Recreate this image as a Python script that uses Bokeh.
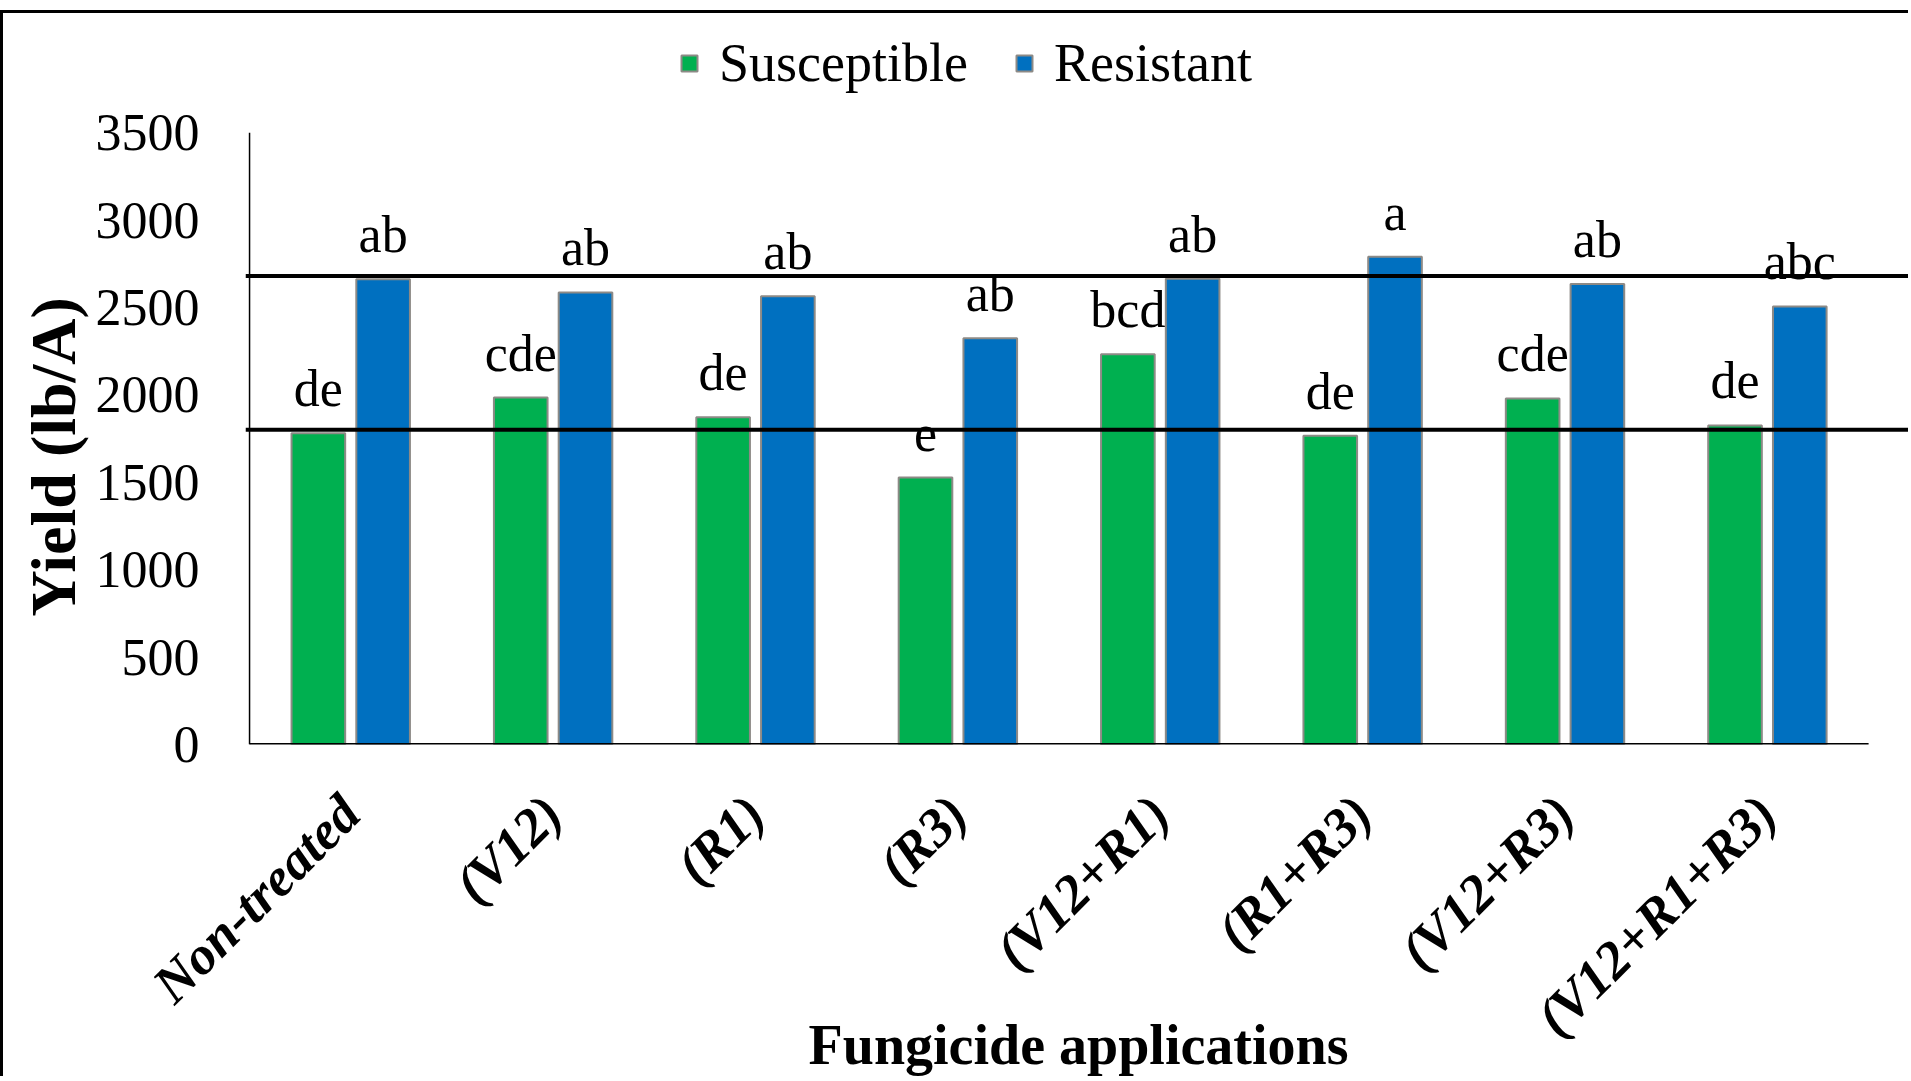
import numpy as np
from bokeh.plotting import figure
from bokeh.models import (Range1d, FixedTicker, ColumnDataSource, Span, Legend,
                          LegendItem, LabelSet, Title)
from bokeh.embed import file_html
from bokeh.resources import INLINE

categories = ["Non-treated", "(V12)", "(R1)", "(R3)", "(V12+R1)", "(R1+R3)",
              "(V12+R3)", "(V12+R1+R3)"]
susceptible = [1780, 1985, 1872, 1527, 2233, 1767, 1980, 1825]
resistant = [2662, 2586, 2565, 2324, 2665, 2790, 2635, 2506]
susc_letters = ["de", "cde", "de", "e", "bcd", "de", "cde", "de"]
res_letters = ["ab", "ab", "ab", "ab", "ab", "a", "ab", "abc"]
ref_lines = [1800, 2680]
y_ticks = [0, 500, 1000, 1500, 2000, 2500, 3000, 3500]

FONT = "Liberation Serif"
n = len(categories)
centers = np.arange(n) + 0.5
off = 0.16
bw = 0.265

p = figure(width=1908, height=1066, output_backend="svg", toolbar_location=None,
           x_range=Range1d(-0.02, n + 0.212), y_range=Range1d(0, 4182),
           min_border_left=242, min_border_top=0, min_border_right=0,
           min_border_bottom=335)
p.styles = {"border-top": "3px solid black", "border-left": "3px solid black",
            "margin-top": "10px"}
p.outline_line_color = None
p.xgrid.visible = False
p.ygrid.visible = False
p.background_fill_color = "white"
p.border_fill_color = "white"

src_s = ColumnDataSource(dict(x=centers - off, top=susceptible, lab=susc_letters))
src_r = ColumnDataSource(dict(x=centers + off, top=resistant, lab=res_letters))

rs = p.vbar(x="x", top="top", width=bw, bottom=0, source=src_s,
            fill_color="#00B050", line_color="#8d8a86", line_width=2)
rr = p.vbar(x="x", top="top", width=bw, bottom=0, source=src_r,
            fill_color="#0070C0", line_color="#8d8a86", line_width=2)

for v in ref_lines:
    p.add_layout(Span(location=v, dimension="width", line_color="black", line_width=4))

# baseline across the categories
p.segment(x0=[0], y0=[0], x1=[n], y1=[0], line_color="black", line_width=3)
# y axis rule from 0 to the top tick
p.segment(x0=[0], y0=[0], x1=[0], y1=[y_ticks[-1]], line_color="black", line_width=1.5)

for src in (src_s, src_r):
    p.add_layout(LabelSet(x="x", y="top", text="lab", source=src,
                          text_align="center", text_baseline="alphabetic",
                          y_offset=27, text_font=FONT, text_font_size="52px",
                          text_color="black"))

# y axis
p.yaxis.ticker = FixedTicker(ticks=y_ticks)
p.yaxis.major_tick_line_color = None
p.yaxis.minor_tick_line_color = None
p.yaxis.axis_line_color = None
p.yaxis.major_label_text_font = FONT
p.yaxis.major_label_text_font_size = "52px"
p.yaxis.major_label_text_color = "black"
p.yaxis.major_label_standoff = 40

# y axis title, placed beside the 0-3500 scale
p.add_layout(Title(text="Yield (lb/A)", align="left", offset=128,
                   text_font=FONT, text_font_size="64px", text_font_style="bold",
                   text_color="black", standoff=8), "left")

# x axis
p.xaxis.ticker = FixedTicker(ticks=list(centers))
p.xaxis.major_label_overrides = {float(c): lab for c, lab in zip(centers, categories)}
p.xaxis.major_label_orientation = np.pi / 4
p.xaxis.major_tick_line_color = None
p.xaxis.minor_tick_line_color = None
p.xaxis.axis_line_color = None
p.xaxis.major_label_text_font = FONT
p.xaxis.major_label_text_font_size = "54px"
p.xaxis.major_label_text_font_style = "bold italic"
p.xaxis.major_label_text_color = "black"
p.xaxis.major_label_standoff = 54
p.xaxis.axis_label = "Fungicide applications"
p.xaxis.axis_label_text_font = FONT
p.xaxis.axis_label_text_font_size = "56px"
p.xaxis.axis_label_text_font_style = "bold"
p.xaxis.axis_label_text_color = "black"
p.xaxis.axis_label_standoff = -58

legend = Legend(items=[LegendItem(label="Susceptible", renderers=[rs]),
                       LegendItem(label="Resistant", renderers=[rr])],
                orientation="horizontal", location=(434, 650),
                label_text_font=FONT, label_text_font_size="54px",
                label_text_color="black", glyph_width=20, glyph_height=20,
                label_standoff=20, spacing=46, border_line_color=None,
                background_fill_alpha=0)
p.add_layout(legend, "center")

open("out.html", "w").write(file_html(p, INLINE))
